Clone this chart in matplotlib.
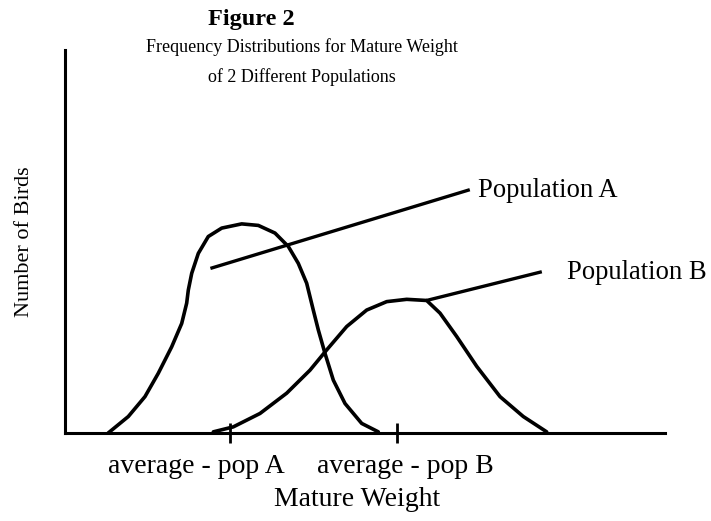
import matplotlib.pyplot as plt
from matplotlib.transforms import ScaledTranslation

plt.rcParams['font.family'] = ['Liberation Serif', 'DejaVu Serif']

# Curve outlines (weight units 0-100, count units 0-100)
pop_a_x = [7.2, 10.55, 13.33, 15.55, 17.78, 19.45, 20.28, 20.55, 21.12, 22.22,
           23.88, 26.12, 29.45, 32.22, 35.0, 37.22, 38.88, 40.28, 41.38, 42.22,
           43.33, 44.72, 46.67, 49.45, 52.22]
pop_a_y = [0, 4.3, 9.5, 15.6, 22.5, 28.6, 33.9, 37.3, 41.7, 46.9,
           51.3, 53.5, 54.6, 54.2, 52.2, 48.7, 44.3, 39.1, 32.1, 26.9,
           20.8, 13.8, 7.7, 2.5, 0.3]

pop_b_x = [24.72, 28.05, 32.5, 36.95, 40.83, 43.62, 46.95, 50.28, 53.62, 56.95,
           60.28, 62.5, 65.28, 68.62, 72.5, 76.38, 80.28]
pop_b_y = [0.3, 1.6, 5.1, 10.4, 16.4, 21.7, 27.8, 32.1, 34.3, 34.9,
           34.6, 31.3, 25.2, 17.4, 9.5, 4.3, 0.3]

tick_pos = [27.5, 55.3]
tick_labels = ["average - pop A", "average - pop B"]

# label leader lines: (start on curve, end near label)
lead_a = [(24.5, 43.1), (67.2, 63.4)]
lead_b = [(60.5, 34.7), (79.2, 42.0)]

fig = plt.figure(figsize=(7.11, 5.21), dpi=100)
ax = fig.add_axes([65 / 711, 88 / 521, 600 / 711, 383 / 521])

ax.plot(pop_a_x, pop_a_y, color="black", lw=2.6, solid_joinstyle="round",
        solid_capstyle="round", clip_on=False)
ax.plot(pop_b_x, pop_b_y, color="black", lw=2.6, solid_joinstyle="round",
        solid_capstyle="round", clip_on=False)

ax.plot([p[0] for p in lead_a], [p[1] for p in lead_a], color="black", lw=2.4)
ax.plot([p[0] for p in lead_b], [p[1] for p in lead_b], color="black", lw=2.4)
ax.text(68.8, 63.4, "Population A", fontsize=19.2, va="center", ha="left")
ax.text(83.7, 42.0, "Population B", fontsize=19.2, va="center", ha="left")

ax.set_xlim(0, 100)
ax.set_ylim(0, 100)
ax.set_xticks(tick_pos, tick_labels, fontsize=20)
ax.set_yticks([])
ax.tick_params(axis="x", direction="inout", length=14, width=2, pad=8)

# the labels sit a little off their tick marks in the original
for lab, dx in zip(ax.get_xticklabels(), [-24, 6]):
    lab.set_transform(lab.get_transform() + ScaledTranslation(dx / 72, 0, fig.dpi_scale_trans))

for side in ["top", "right"]:
    ax.spines[side].set_visible(False)
for side in ["left", "bottom"]:
    ax.spines[side].set_linewidth(2.2)

ax.set_xlabel("Mature Weight", fontsize=20, labelpad=10)
ax.xaxis.set_label_coords(0.487, -0.14)
ax.set_ylabel("Number of Birds", fontsize=16, labelpad=22)

fig.text(0.353, 0.962, "Figure 2", fontsize=17.5, fontweight="bold", ha="center", va="center")
fig.text(0.425, 0.910, "Frequency Distributions for Mature Weight", fontsize=13,
         ha="center", va="center")
fig.text(0.425, 0.852, "of 2 Different Populations", fontsize=13, ha="center", va="center")

fig.savefig("out.png", dpi=100)
